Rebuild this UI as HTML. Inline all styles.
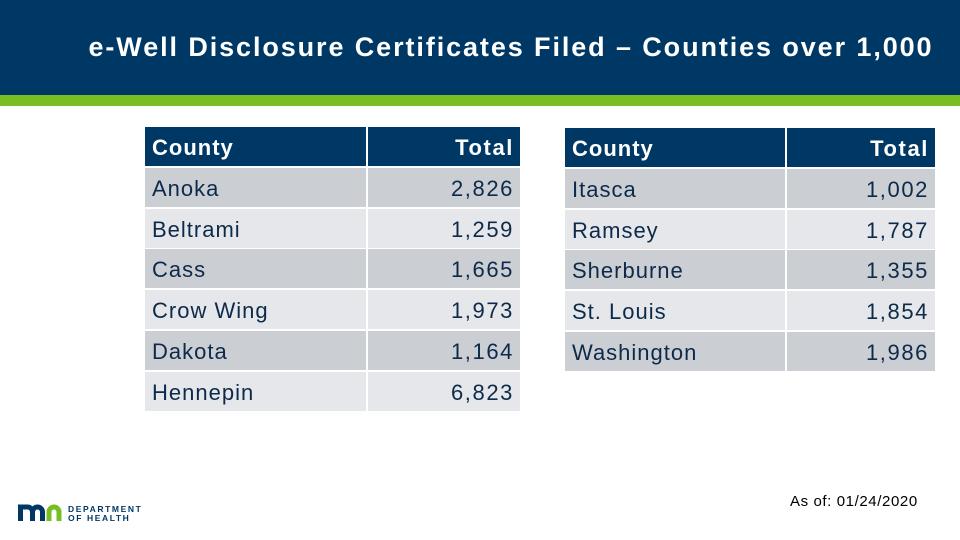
<!DOCTYPE html>
<html><head><meta charset="utf-8"><style>
body{margin:0;width:960px;height:540px;position:relative;background:#fff;font-family:"Liberation Sans",sans-serif;overflow:hidden}
.hdr{position:absolute;left:0;top:0;width:960px;height:95px;background:#003865}
.grn{position:absolute;left:0;top:95px;width:960px;height:11px;background:#78be21}
.title{position:absolute;left:0;width:1022px;top:32px;text-align:center;color:#fff;font-size:27px;font-weight:bold;letter-spacing:1.9px}
.c{position:absolute;height:39px;line-height:41px;font-size:22px;letter-spacing:1px;color:#0d2a4a;box-sizing:border-box;padding:0 7px}
.h{background:#003865;color:#fff;font-weight:bold}
.d{background:#cbced3}.l{background:#e6e7ea}
.r{text-align:right;letter-spacing:1.6px;padding-right:6px}
.asof{position:absolute;left:790px;top:493px;font-size:15px;letter-spacing:0.6px;color:#000}
</style></head><body>
<div class="hdr"></div>
<div class="grn"></div>
<div class="title">e-Well Disclosure Certificates Filed – Counties over 1,000</div>
<div id="tables"></div>
<svg style="position:absolute;left:18px;top:503px" width="130" height="20">
<path d="M2.5 18V4h7a5 5 0 0 1 5 5v9M14.5 18V9a5 5 0 0 1 10 0v9" stroke="#003865" stroke-width="5" fill="none"/>
<path d="M31 18V9a5 5 0 0 1 10 0v9" stroke="#78be21" stroke-width="5" fill="none"/>
<text x="50" y="9" font-size="8.5" font-weight="bold" fill="#003865" letter-spacing="1.6">DEPARTMENT</text>
<text x="50" y="18" font-size="8.5" font-weight="bold" fill="#003865" letter-spacing="1.6">OF HEALTH</text>
</svg>
<div class="asof">As of: 01/24/2020</div>
<script>
const left=["Anoka","Beltrami","Cass","Crow Wing","Dakota","Hennepin"];
const leftTotals=["2,826","1,259","1,665","1,973","1,164","6,823"];
const right=["Itasca","Ramsey","Sherburne","St. Louis","Washington"];
const rightTotals=["1,002","1,787","1,355","1,854","1,986"];
const T=document.getElementById('tables');
function cell(x,y,w,txt,cls,name){
 const e=document.createElement('div');
 e.className='c '+cls;
 e.style.left=x+'px';e.style.top=y+'px';e.style.width=w+'px';
 e.textContent=txt;
 
 
 T.appendChild(e);
}
function table(x0,w1,x1,w2,y0,names,tots,prefix){
 cell(x0,y0,w1,'County','h',prefix+'county-header');
 cell(x1,y0,w2,'Total','h r',prefix+'total-header');
 names.forEach((n,i)=>{
  const y=y0+40.8*(i+1);const cls=i%2?'l':'d';
  cell(x0,y,w1,n,cls,prefix+'county-cell');
  cell(x1,y,w2,tots[i],cls+' r',prefix+'total-cell');
 });
}
table(145,221,368,152,127,left,leftTotals,'left-');
table(565,220,787,148,128,right,rightTotals,'right-');
</script>
</body></html>
